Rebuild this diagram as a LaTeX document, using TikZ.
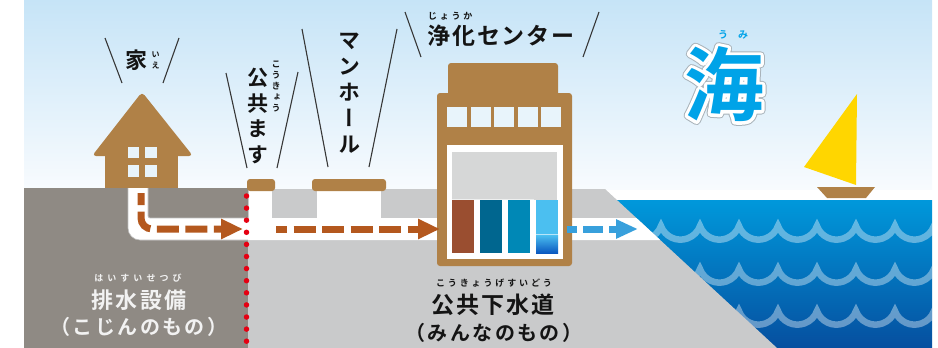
\documentclass[tikz,border=0pt]{standalone}
\usepackage{fontspec}
\usetikzlibrary{arrows.meta}
\newfontfamily\jp{Noto Sans CJK JP Bold}
\newfontfamily\jpv{Noto Sans CJK JP Bold}[RawFeature=+vert]

\definecolor{skyTop}{HTML}{C6E4F7}
\definecolor{skyBot}{HTML}{F8FBFE}
\definecolor{seaTop}{HTML}{0098DB}
\definecolor{seaMid}{HTML}{0068B8}
\definecolor{seaBot}{HTML}{064F9F}
\definecolor{earthDark}{HTML}{8F8A84}
\definecolor{earthLight}{HTML}{C9CACB}
\definecolor{woodBrown}{HTML}{B08147}
\definecolor{flowBrown}{HTML}{B4581E}
\definecolor{flowBlue}{HTML}{38A0DC}
\definecolor{paneLight}{HTML}{E8F4FB}
\definecolor{plantGray}{HTML}{D6D7D7}
\definecolor{tankA}{HTML}{9A4E30}
\definecolor{tankB}{HTML}{00668F}
\definecolor{tankC}{HTML}{0088B6}
\definecolor{tankD}{HTML}{4BBFF0}
\definecolor{tankDeep}{HTML}{0A58C0}
\definecolor{sailYellow}{HTML}{FFD600}
\definecolor{dotRed}{HTML}{E50012}
\definecolor{umiBlue}{HTML}{00A3E8}
\definecolor{ink}{HTML}{141414}

% outlined glyphs: fill and stroke the text with a given width and stroke colour
\newcommand\strokedtext[3]{\special{pdf:code 1 j 2 Tr #1 w #2 RG}#3\special{pdf:code 0 Tr 0 j 0.4 w}}

\tikzset{
  lbl/.style={inner sep=0pt, text=ink},
  callout/.style={draw=ink!85, line width=1.1pt},
  flow/.style={line width=7pt, dash pattern=on 22pt off 6.5pt,
    -{Triangle[length=22pt,width=19pt]}},
  bluflow/.style={line width=7pt, dash pattern=on 20pt off 6pt, dash phase=10pt,
    flowBlue, -{Triangle[length=22pt,width=18pt]}},
  boundary/.style={draw=dotRed, line width=5.5pt, line cap=round,
    dash pattern=on 0pt off 12.1pt},
  wave/.style={draw=white, draw opacity=0.38, line width=6.5pt},
  lid/.style={fill=woodBrown, rounded corners=3pt},
  pane/.style={fill=paneLight},
  umistyle/.style={inner sep=0pt, text=umiBlue, font={\jp\fontsize{80}{80}\selectfont}},
}

\begin{document}
\begin{tikzpicture}[x=1pt,y=-1pt]
\useasboundingbox (0,0) rectangle (938,348);

% sky
\shade[top color=skyTop, bottom color=skyBot] (24,0) rectangle (932,189);

% sea with waves
\shade[top color=seaTop, middle color=seaMid, bottom color=seaBot] (600,200) rectangle (932,348);
\begin{scope}
  \clip (600,200) rectangle (932,348);
  \foreach \yy in {226,269,311}{
    \draw[wave] (622,\yy) \foreach \k in {1,...,9}{ arc[start angle=200,end angle=340,radius=20.75pt] };
  }
\end{scope}

% ground: private side and public side with the shore slope
\fill[earthDark] (24,188) rectangle (248,348);
\fill[earthLight] (248,189) -- (605,189) -- (777,348) -- (248,348) -- cycle;

% drain pipe
\fill[white] (128,188) [rounded corners=12pt] -- (128,240) [sharp corners] -- (660.2,240)
  -- (636.4,218) [rounded corners=2pt] -- (148,218) [sharp corners] -- (148,188) -- cycle;
\draw[black!25, line width=0.6pt] (128,188) [rounded corners=12pt] -- (128,240) [sharp corners] -- (248,240);
\draw[black!25, line width=0.6pt] (248,218) [rounded corners=2pt] -- (148,218) [sharp corners] -- (148,188);

% shafts under the inspection box and the manhole
\fill[white] (249,189) rectangle (272,218);
\fill[white] (317,189) rectangle (381,218);

% house
\fill[woodBrown, rounded corners=4pt] (92,156) -- (142,92) -- (193,156) -- cycle;
\fill[woodBrown] (105,140) rectangle (178,188);
\fill[pane] (128,147) rectangle (139,158);
\fill[pane] (145,147) rectangle (157,158);
\fill[pane] (128,165) rectangle (139,177);
\fill[pane] (145,165) rectangle (157,177);

% inspection box and manhole lids
\fill[lid] (247,179) rectangle (275,191);
\fill[lid] (312,179) rectangle (386,191);

% treatment plant
\fill[woodBrown, rounded corners=3pt] (448,63) rectangle (558,100);
\fill[woodBrown, rounded corners=3pt] (437,93) rectangle (572,266);
\foreach \wx in {447,471,494,518,541}{
  \fill[pane] (\wx,107) rectangle ++(20,20);
}
\fill[white] (447,145) rectangle (563,259);
\fill[plantGray] (452,152) rectangle (557,200);
\fill[tankA] (452,200) rectangle (474,253);
\fill[tankB] (480,200) rectangle (502,253);
\fill[tankC] (508,200) rectangle (530,253);
\fill[tankD] (536,200) rectangle (558,235);
\shade[top color=tankD, bottom color=tankDeep] (536,235) rectangle (558,253);
\draw[white, draw opacity=0.6, line width=0.8pt] (450,199) rectangle (533,254);
\draw[white, draw opacity=0.6, line width=0.8pt] (534,234) rectangle (560,254);

% flow of waste water
\coordinate (houseOut) at (141,193);
\coordinate (masuIn) at (243,229);
\coordinate (masuOut) at (276,229);
\coordinate (plantIn) at (440,229);
\coordinate (plantOut) at (567,229);
\coordinate (seaIn) at (638,229);
\draw[flow, flowBrown, rounded corners=11pt, dash phase=10pt] (houseOut) |- (masuIn);
\draw[flow, flowBrown, dash phase=11pt] (masuOut) -- (plantIn);
\draw[bluflow] (plantOut) -- (seaIn);

% property boundary
\coordinate (lineTop) at (246.5,196);
\coordinate (lineBot) at (246.5,350);
\draw[boundary] (lineTop) -- (lineBot);

% sailing boat
\fill[sailYellow] (857,94) -- (804,167) -- (856,185) -- cycle;
\fill[woodBrown] (817,187) -- (875,187) -- (866,198) -- (827,198) -- cycle;

% house label
\node[lbl, font={\jp\fontsize{22}{22}\selectfont}] (ieL) at (136,60) {家};
\node[lbl, font={\jp\fontsize{8}{8}\selectfont}] (ieR1) at (155.5,54.5) {い};
\node[lbl, font={\jp\fontsize{8}{8}\selectfont}] (ieR2) at (155.5,65.5) {え};
\draw[callout] (105,38) -- (122,83);
\draw[callout] (179,38) -- (163,83);

% inspection box label
\node[lbl, align=center, font={\jpv\fontsize{21}{25.5}\selectfont}] (masuL) at (258,116) {公\\共\\ま\\す};
\node[lbl, align=center, font={\jpv\fontsize{9}{11}\selectfont}] (masuR) at (276,86) {こ\\う\\き\\ょ\\う};
\draw[callout] (226,73) -- (247,168);
\draw[callout] (298,72) -- (277,168);

% manhole label
\node[lbl, align=center, font={\jpv\fontsize{22}{26}\selectfont}] (mhL) at (349,93) {マ\\ン\\ホ\\ー\\ル};
\draw[callout] (302,29) -- (328,167);
\draw[callout] (397,29) -- (369,167);

% treatment plant label
\node[lbl, font={\jp\fontsize{23}{23}\selectfont\addfontfeatures{LetterSpace=7}}] (jokaL) at (501,36) {浄化センター};
\node[lbl, anchor=west, font={\jp\fontsize{9}{9}\selectfont\addfontfeatures{LetterSpace=30}}] (jokaR) at (428,16) {じょうか};
\draw[callout] (405,12) -- (421,57);
\draw[callout] (599,12) -- (583,57);

% private drainage label
\node[lbl, text=white!95!black, font={\jp\fontsize{9}{9}\selectfont\addfontfeatures{LetterSpace=45}}] (haiR) at (138,278) {はいすいせつび};
\node[lbl, text=white!95!black, font={\jp\fontsize{22}{22}\selectfont\addfontfeatures{LetterSpace=12}}] (haiL) at (139,300) {排水設備};
\node[lbl, text=white!95!black, font={\jp\fontsize{20}{20}\selectfont\addfontfeatures{LetterSpace=12}}] (haiS) at (139,327) {（こじんのもの）};

% public sewer label
\node[lbl, font={\jp\fontsize{9}{9}\selectfont\addfontfeatures{LetterSpace=32}}] (gesR) at (494,283) {こうきょうげすいどう};
\node[lbl, font={\jp\fontsize{23}{23}\selectfont\addfontfeatures{LetterSpace=9}}] (gesL) at (493,305) {公共下水道};
\node[lbl, font={\jp\fontsize{20}{20}\selectfont\addfontfeatures{LetterSpace=12}}] (gesS) at (494,333) {（みんなのもの）};

% sea label: grey rim, white halo, blue glyph, all stacked on one spot
\node[inner sep=0pt, text=umiBlue, font={\jp\fontsize{10}{10}\selectfont}] (umiR) at (733,35) {う　み};
\node[umistyle] (umiL) at (724,84) {\rlap{\strokedtext{8.5}{0.663 0.702 0.729}{海}}\rlap{\strokedtext{6.5}{1 1 1}{海}}海};
\end{tikzpicture}
\end{document}
